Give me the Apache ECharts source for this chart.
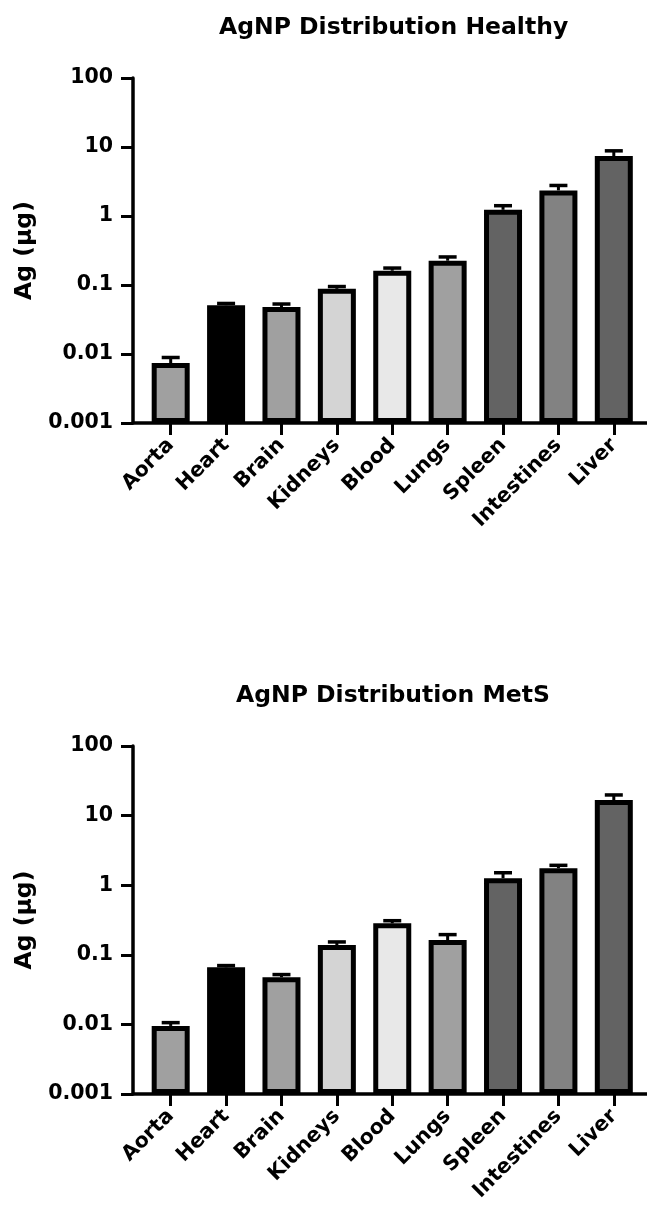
<!DOCTYPE html>
<html>
<head>
<meta charset="utf-8">
<script src="https://cdn.jsdelivr.net/npm/echarts@6/dist/echarts.min.js"></script>
<style>
html,body{margin:0;padding:0;background:#fff;}
#chart{width:647px;height:1220px;}
</style>
</head>
<body>
<div id="chart"></div>
<script>
// ---- data ----
var categories = ['Aorta','Heart','Brain','Kidneys','Blood','Lungs','Spleen','Intestines','Liver'];
var healthyMean = [0.0074, 0.051, 0.048, 0.088, 0.161, 0.225, 1.23, 2.35, 7.4];
var healthyErr  = [0.0015, 0.003, 0.005, 0.007, 0.015, 0.03, 0.18, 0.42, 1.4];
var metsMean    = [0.0095, 0.066, 0.0475, 0.138, 0.283, 0.163, 1.26, 1.75, 16.7];
var metsErr     = [0.0011, 0.004, 0.0045, 0.015, 0.026, 0.032, 0.25, 0.18, 3.1];
var yTickLabels = ['0.001','0.01','0.1','1','10','100'];
var titles = ['AgNP Distribution Healthy','AgNP Distribution MetS'];
var yName = 'Ag (\u03bcg)';
// ---- style ----
var barColors = ['#a0a0a0','#000000','#a0a0a0','#d4d4d4','#e8e8e8','#a0a0a0','#636363','#828282','#636363'];
var FONT = 'DejaVu Sans';

var chart = echarts.init(document.getElementById('chart'), null, {renderer:'canvas'});

var panels = [
  {mean: healthyMean, err: healthyErr, top: 78, height: 345, titleTop: 16, titleLeft: 219},
  {mean: metsMean, err: metsErr, top: 746, height: 348, titleTop: 684, titleLeft: 236}
];

var option = {
  backgroundColor:'#fff',
  animation:false,
  title:[], grid:[], xAxis:[], yAxis:[], series:[]
};

panels.forEach(function(p, k){
  option.title.push({
    text: titles[k], left: p.titleLeft, top: p.titleTop, padding: 0,
    textStyle:{fontFamily:FONT, fontWeight:'bold', fontSize:23.5, color:'#000'}
  });
  // main grid (bars)
  option.grid.push({left:143, right:5.5, top:p.top, height:p.height, containLabel:false});
  // grid for the full-length x axis line
  option.grid.push({left:133, right:0, top:p.top, height:p.height, containLabel:false});
  var g = k*2;
  option.xAxis.push({
    type:'category', gridIndex:g, data:categories,
    axisLine:{show:false, onZero:false},
    axisTick:{show:true, alignWithLabel:true, length:12, lineStyle:{color:'#000', width:3}},
    axisLabel:{interval:0, rotate:45, margin:19, color:'#000', fontFamily:FONT, fontWeight:'bold', fontSize:20.5},
    splitLine:{show:false}
  });
  option.xAxis.push({
    type:'value', gridIndex:g+1, min:0, max:1,
    axisLine:{show:true, onZero:false, lineStyle:{color:'#000', width:3.5}},
    axisTick:{show:false}, axisLabel:{show:false}, splitLine:{show:false}
  });
  option.yAxis.push({
    type:'log', gridIndex:g, logBase:10, min:0.001, max:100, startValue:0.001, offset:10,
    name: yName, nameLocation:'middle', nameGap:86,
    nameTextStyle:{fontFamily:FONT, fontWeight:'bold', fontSize:23.5, color:'#000'},
    axisLine:{show:true, lineStyle:{color:'#000', width:3.5}},
    axisTick:{show:true, length:12, lineStyle:{color:'#000', width:3}},
    minorTick:{show:false},
    axisLabel:{margin:20, color:'#000', fontFamily:FONT, fontWeight:'bold', fontSize:20.5,
      formatter:function(v){ var i = Math.round(Math.log(v)/Math.LN10)+3; return yTickLabels[i] || ''; }},
    splitLine:{show:false}
  });
  option.yAxis.push({type:'value', gridIndex:g+1, min:0, max:1, show:false});

  option.series.push({
    type:'bar', xAxisIndex:2*k, yAxisIndex:2*k, barWidth:38, z:3,
    data: p.mean.map(function(v,i){
      return {value:v, itemStyle:{color:barColors[i], borderColor:'#000', borderWidth:5}};
    })
  });
  option.series.push({
    type:'custom', xAxisIndex:2*k, yAxisIndex:2*k, z:2,
    data: p.mean.map(function(v,i){ return [i, v, v + p.err[i]]; }),
    encode:{x:0, y:[1,2]},
    renderItem:function(params, api){
      var i = api.value(0), m = api.value(1), u = api.value(2);
      var p0 = api.coord([i, m]), p1 = api.coord([i, u]);
      var hw = 9;
      return {type:'group', children:[
        {type:'line', shape:{x1:p0[0], y1:p0[1], x2:p1[0], y2:p1[1]}, style:{stroke:'#000', lineWidth:3}},
        {type:'line', shape:{x1:p1[0]-hw, y1:p1[1], x2:p1[0]+hw, y2:p1[1]}, style:{stroke:'#000', lineWidth:3.5}}
      ]};
    }
  });
});

chart.setOption(option);
</script>
</body>
</html>
